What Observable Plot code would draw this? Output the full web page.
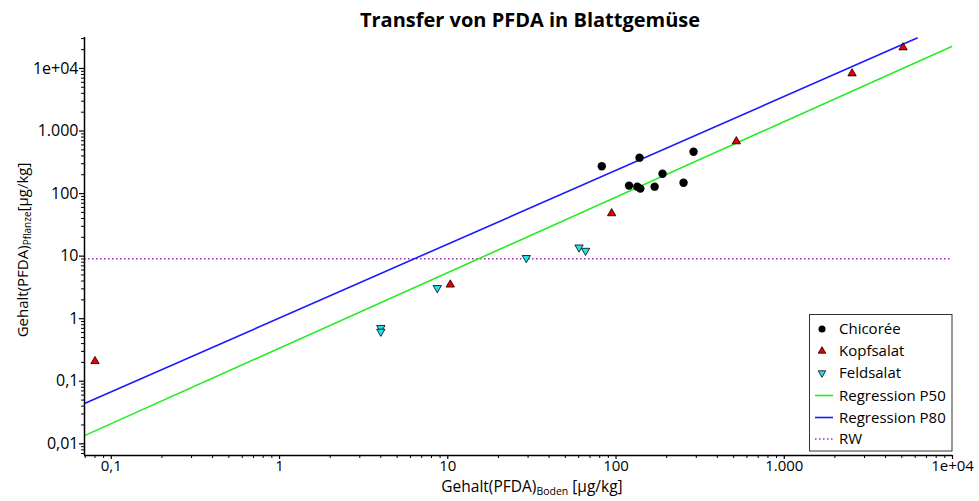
<!DOCTYPE html>
<html><head><meta charset="utf-8">
<script src="https://cdn.jsdelivr.net/npm/d3@7"></script>
<script src="https://cdn.jsdelivr.net/npm/@observablehq/plot@0.6"></script>
<style>body{margin:0;background:#fff;} #chart{width:979px;height:501px;}</style>
</head><body><div id="chart"></div>
<script>
// ---- data ----
const chicoreeX = [82.3, 138, 289, 189, 119.5, 133.8, 139.5, 169.6, 252];
const chicoreeY = [274, 375, 467, 208, 134, 129, 120, 129, 149];
const kopfsalatX = [0.080, 10.35, 94.2, 519, 2530, 5085];
const kopfsalatY = [0.209, 3.5, 48.3, 682, 8318, 21650];
const feldsalatX = [4.0, 4.0, 8.66, 29.3, 60.3, 65.9];
const feldsalatY = [0.713, 0.622, 3.1, 9.36, 13.8, 12.2];
const p50X = [0.0693, 10000];
const p50Y = [0.0135, 22800];
const p80X = [0.0693, 6160];
const p80Y = [0.0440, 30590];
const rwValue = 9.1;
const xTickValues = [0.1, 1, 10, 100, 1000, 10000];
const xTickLabels = ["0,1", "1", "10", "100", "1.000", "1e+04"];
const yTickValues = [0.01, 0.1, 1, 10, 100, 1000, 10000];
const yTickLabels = ["0,01", "0,1", "1", "10", "100", "1.000", "1e+04"];
const seriesNames = ["Chicorée", "Kopfsalat", "Feldsalat", "Regression P50", "Regression P80", "RW"];
const chartTitle = "Transfer von PFDA in Blattgemüse";

// ---- tables ----
const toRows = (xs, ys) => xs.map((x, i) => ({x, y: ys[i]}));
const chicoree = toRows(chicoreeX, chicoreeY);
const kopfsalat = toRows(kopfsalatX, kopfsalatY);
const feldsalat = toRows(feldsalatX, feldsalatY);
const p50 = toRows(p50X, p50Y);
const p80 = toRows(p80X, p80Y);

const xDomain = [0.0693, 10000];
const yDomain = [0.0065, 31260];
function minors(lo, hi) {
  const out = [];
  for (let e = Math.floor(Math.log10(lo)); e <= Math.ceil(Math.log10(hi)); e++)
    for (let m = 2; m <= 9; m++) { const v = m * Math.pow(10, e); if (v >= lo && v <= hi) out.push(v); }
  return out;
}
const xMinor = minors(...xDomain);
const yMinor = minors(...yDomain);

const C = {green: "#22ee22", blue: "#1a1aff", rw: "#9933aa", red: "#e60000", cyan: "#22e0ea"};

const plot = Plot.plot({
  width: 979, height: 501,
  marginLeft: 84, marginRight: 27, marginTop: 37, marginBottom: 46,
  x: {type: "log", domain: xDomain},
  y: {type: "log", domain: yDomain},
  style: {fontFamily: "Open Sans", fontSize: "16px", color: "#000", background: "#fff"},
  marks: [
    Plot.ruleY([rwValue], {stroke: C.rw, strokeDasharray: "1.5,2.5", strokeWidth: 1.5}),
    Plot.line(p50, {x: "x", y: "y", stroke: C.green, strokeWidth: 1.6, clip: true}),
    Plot.line(p80, {x: "x", y: "y", stroke: C.blue, strokeWidth: 1.6, clip: true}),
    Plot.dot(chicoree, {x: "x", y: "y", r: 4.2, fill: "#000", symbol: "circle"}),
    Plot.dot(kopfsalat, {x: "x", y: "y", r: 3.1, fill: C.red, stroke: "#000", strokeWidth: 0.8, symbol: "triangle"}),
    Plot.dot(feldsalat, {x: "x", y: "y", r: 3.1, fill: C.cyan, stroke: "#000", strokeWidth: 0.8, symbol: "triangle", rotate: 180}),
    Plot.axisX({ticks: xMinor, tickSize: 3, tickFormat: () => "", label: null, strokeWidth: 1}),
    Plot.axisX({ticks: xTickValues, tickSize: 4, tickPadding: 1, tickFormat: d => xTickLabels[xTickValues.indexOf(d)], label: null, fontSize: 15, strokeWidth: 1.2}),
    Plot.axisY({ticks: yMinor, tickSize: 3, tickFormat: () => "", label: null, strokeWidth: 1}),
    Plot.axisY({ticks: yTickValues, tickSize: 5, tickPadding: 1, tickFormat: d => yTickLabels[yTickValues.indexOf(d)], label: null, fontSize: 16, strokeWidth: 1.2}),
    Plot.ruleX([xDomain[0]], {stroke: "#000", strokeWidth: 1.5}),
    Plot.ruleY([yDomain[0]], {stroke: "#000", strokeWidth: 1.5})
  ]
});
document.getElementById("chart").appendChild(plot);

const svg = d3.select(plot);
// title
svg.append("text").attr("x", 530).attr("y", 27).attr("text-anchor", "middle")
  .attr("font-family", "Open Sans").attr("font-weight", "bold").attr("font-size", 20).attr("fill", "#000")
  .text(chartTitle);
// x axis title
const xt = svg.append("text").attr("x", 532).attr("y", 492).attr("text-anchor", "middle")
  .attr("font-family", "Open Sans").attr("font-size", 15.5).attr("fill", "#000");
xt.append("tspan").text("Gehalt(PFDA)");
xt.append("tspan").attr("font-size", 10.5).attr("dy", 3).text("Boden");
xt.append("tspan").attr("dy", -3).text(" [µg/kg]");
// y axis title
const yt = svg.append("text").attr("transform", "translate(28,250) rotate(-90)").attr("text-anchor", "middle")
  .attr("font-family", "Open Sans").attr("font-size", 15).attr("fill", "#000");
yt.append("tspan").text("Gehalt(PFDA)");
yt.append("tspan").attr("font-size", 10).attr("dy", 3).text("Pflanze");
yt.append("tspan").attr("dy", -3).text("[µg/kg]");

// legend
const lg = svg.append("g").attr("font-family", "Open Sans").attr("font-size", 15).attr("text-anchor", "start");
lg.append("rect").attr("x", 809.5).attr("y", 314.5).attr("width", 142.5).attr("height", 136.5)
  .attr("fill", "#fff").attr("stroke", "#333").attr("stroke-width", 1);
const rowY = [329, 351, 373, 395.5, 417.5, 439];
const symX = 822;
lg.append("path").attr("d", d3.symbol(d3.symbolCircle, Math.PI * 3.5 * 3.5)()).attr("transform", `translate(${symX},${rowY[0]})`).attr("fill", "#000");
lg.append("path").attr("d", d3.symbol(d3.symbolTriangle, Math.PI * 2.8 * 2.8)()).attr("transform", `translate(${symX},${rowY[1]})`).attr("fill", C.red).attr("stroke", "#000").attr("stroke-width", 0.8);
lg.append("path").attr("d", d3.symbol(d3.symbolTriangle, Math.PI * 2.8 * 2.8)()).attr("transform", `translate(${symX},${rowY[2]}) rotate(180)`).attr("fill", C.cyan).attr("stroke", "#000").attr("stroke-width", 0.8);
lg.append("line").attr("x1", 815).attr("x2", 833).attr("y1", rowY[3]).attr("y2", rowY[3]).attr("stroke", C.green).attr("stroke-width", 1.6);
lg.append("line").attr("x1", 815).attr("x2", 833).attr("y1", rowY[4]).attr("y2", rowY[4]).attr("stroke", C.blue).attr("stroke-width", 1.6);
lg.append("line").attr("x1", 815).attr("x2", 833).attr("y1", rowY[5]).attr("y2", rowY[5]).attr("stroke", C.rw).attr("stroke-width", 1.5).attr("stroke-dasharray", "1.5,2.5");
seriesNames.forEach((n, i) => {
  lg.append("text").attr("x", 839).attr("y", rowY[i] + 5).attr("fill", "#000").text(n);
});
</script>
</body></html>
